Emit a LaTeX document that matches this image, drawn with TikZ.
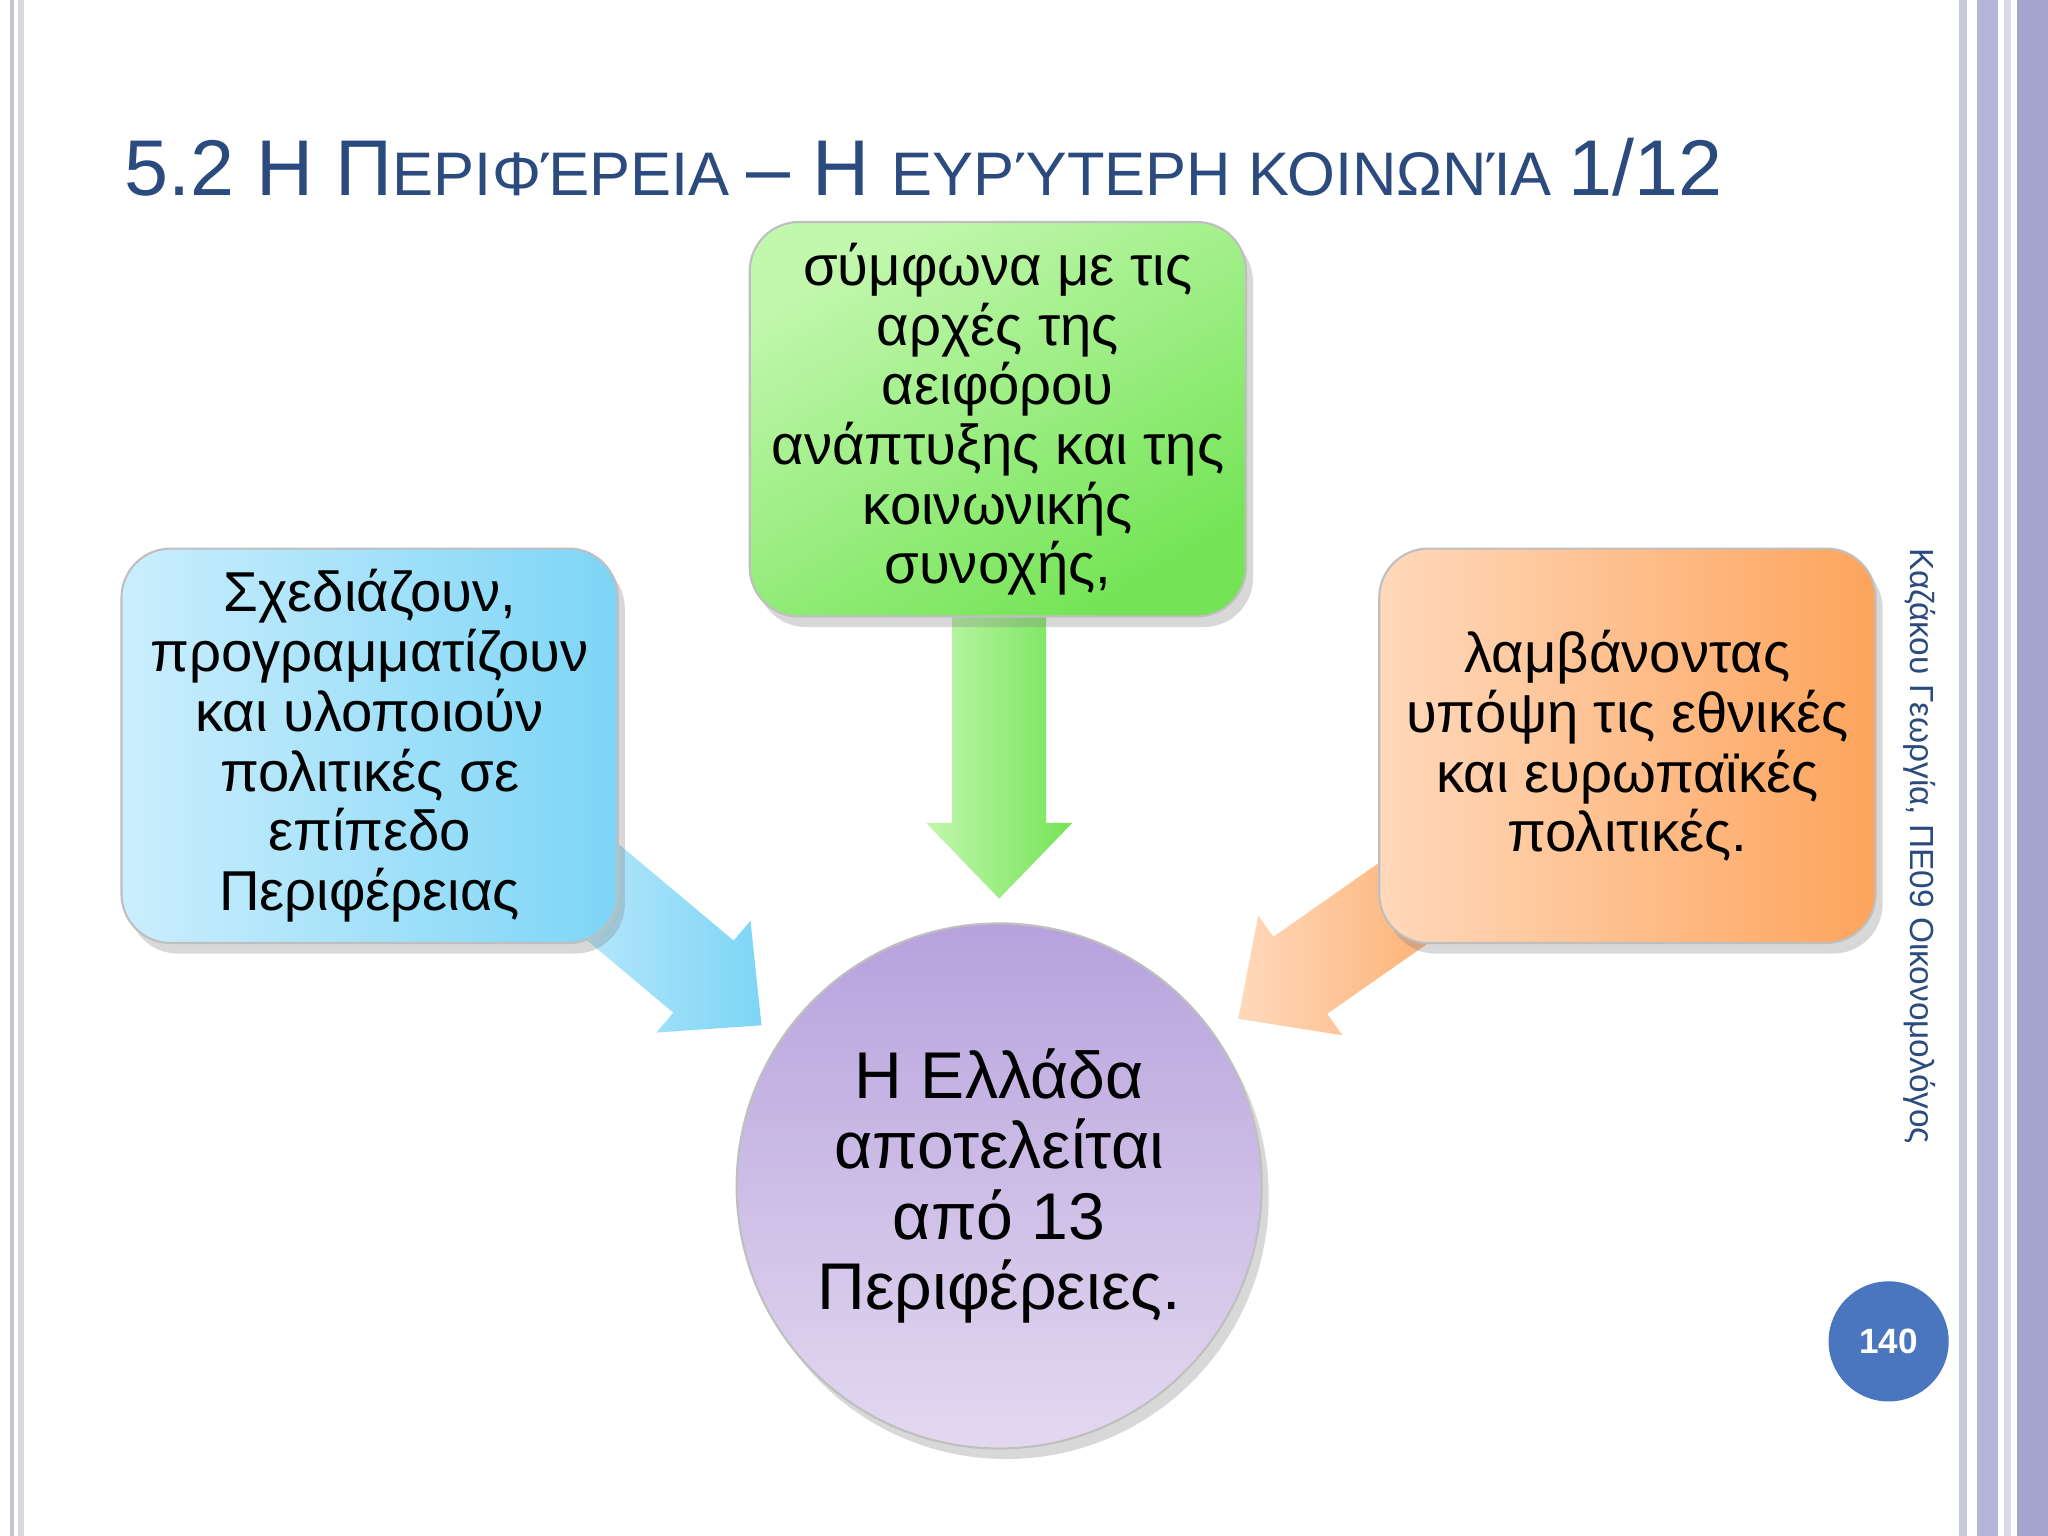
\documentclass[tikz,border=0pt]{standalone}
\usepackage{fontspec}
\setmainfont{Liberation Sans}
\usetikzlibrary{shadows}
\definecolor{titleblue}{HTML}{2B4B7E}
\definecolor{pgblue}{HTML}{4A76C0}
\definecolor{bL}{HTML}{CBEEFD}
\definecolor{bR}{HTML}{7DD5F6}
\definecolor{gL}{HTML}{C2F7AE}
\definecolor{gR}{HTML}{74E456}
\definecolor{oL}{HTML}{FFD9BC}
\definecolor{oR}{HTML}{FDA45C}
\definecolor{cT}{HTML}{B7A2DD}
\definecolor{cB}{HTML}{E2D9F0}
\tikzset{
  box/.style={rounded corners=14pt, draw=black!25, line width=0.6pt, minimum width=380*0.01306cm, minimum height=302*0.01306cm, align=center, font=\fontsize{16}{17}\selectfont, drop shadow={opacity=0.3, shadow xshift=2pt, shadow yshift=-3pt}},
  arr/.style={draw=none},
}
\begin{document}
\begin{tikzpicture}[x=0.01306cm,y=-0.01306cm]
\useasboundingbox (0,0) rectangle (1568,1176);
\fill[white] (0,0) rectangle (1568,1176);
% borders
\fill[blue!20!gray!40] (8,0) rectangle (11,1176);
\fill[blue!20!gray!25] (14,0) rectangle (18,1176);
\fill[blue!25!gray!35] (1500,0) rectangle (1506,1176);
\fill[blue!30!gray!45] (1514,0) rectangle (1530,1176);
\fill[blue!30!gray!55] (1544,0) rectangle (1568,1176);
\fill[blue!20!gray!25] (1534,0) rectangle (1540,1176);
% title
\node[anchor=base west, text=titleblue, inner sep=0] (title) at (95,150)
 {\fontsize{22.5}{26}\selectfont 5.2 Η Π\fontsize{17.5}{20}\selectfont ΕΡΙΦΈΡΕΙΑ \fontsize{22.5}{26}\selectfont – Η \fontsize{17.5}{20}\selectfont ΕΥΡΎΤΕΡΗ ΚΟΙΝΩΝΊΑ \fontsize{22.5}{26}\selectfont 1/12};
% arrows
\begin{scope}[shift={(765,688)}, rotate=-90]
 \shade[arr, left color=gL, right color=gR] (-250,-36)--(-58,-36)--(-58,-56)--(0,0)--(-58,56)--(-58,36)--(-250,36)--cycle;
\end{scope}
\begin{scope}[shift={(583,785)}, rotate=-40]
 \shade[arr, left color=bL, right color=bR] (-220,-36)--(-58,-36)--(-58,-56)--(0,0)--(-58,56)--(-58,36)--(-220,36)--cycle;
\end{scope}
\begin{scope}[shift={(948,780)}, rotate=-145]
 \shade[arr, left color=oL, right color=oR] (-220,-36)--(-58,-36)--(-58,-56)--(0,0)--(-58,56)--(-58,36)--(-220,36)--cycle;
\end{scope}
% boxes
\node[box, left color=gL, right color=gR, shading angle=30] (g) at (764,321)
 {σύμφωνα με τις\\αρχές της\\αειφόρου\\ανάπτυξης και της\\κοινωνικής\\συνοχής,};
\node[box, left color=bL, right color=bR] (b) at (283,571)
 {Σχεδιάζουν,\\προγραμματίζουν\\και υλοποιούν\\πολιτικές σε\\επίπεδο\\Περιφέρειας};
\node[box, left color=oL, right color=oR] (o) at (1246,571)
 {λαμβάνοντας\\υπόψη τις εθνικές\\και ευρωπαϊκές\\πολιτικές.};
\node[circle, minimum size=402*0.01306cm, draw=black!25, line width=0.6pt, top color=cT, bottom color=cB, align=center, font=\fontsize{18.8}{20}\selectfont, drop shadow={opacity=0.3, shadow xshift=2pt, shadow yshift=-3pt}] (c) at (765,908)
 {Η Ελλάδα\\αποτελείται\\από 13\\Περιφέρειες.};
% side text
\node[rotate=-90, font=\fontsize{9.5}{11}\selectfont, text=titleblue] (side) at (1470,648) {Καζάκου Γεωργία, ΠΕ09 Οικονομολόγος};
% page number
\node[circle, fill=pgblue, minimum size=92*0.01306cm, text=white, font=\fontsize{10}{12}\selectfont\bfseries] (pg) at (1446,1027) {140};
\end{tikzpicture}
\end{document}
